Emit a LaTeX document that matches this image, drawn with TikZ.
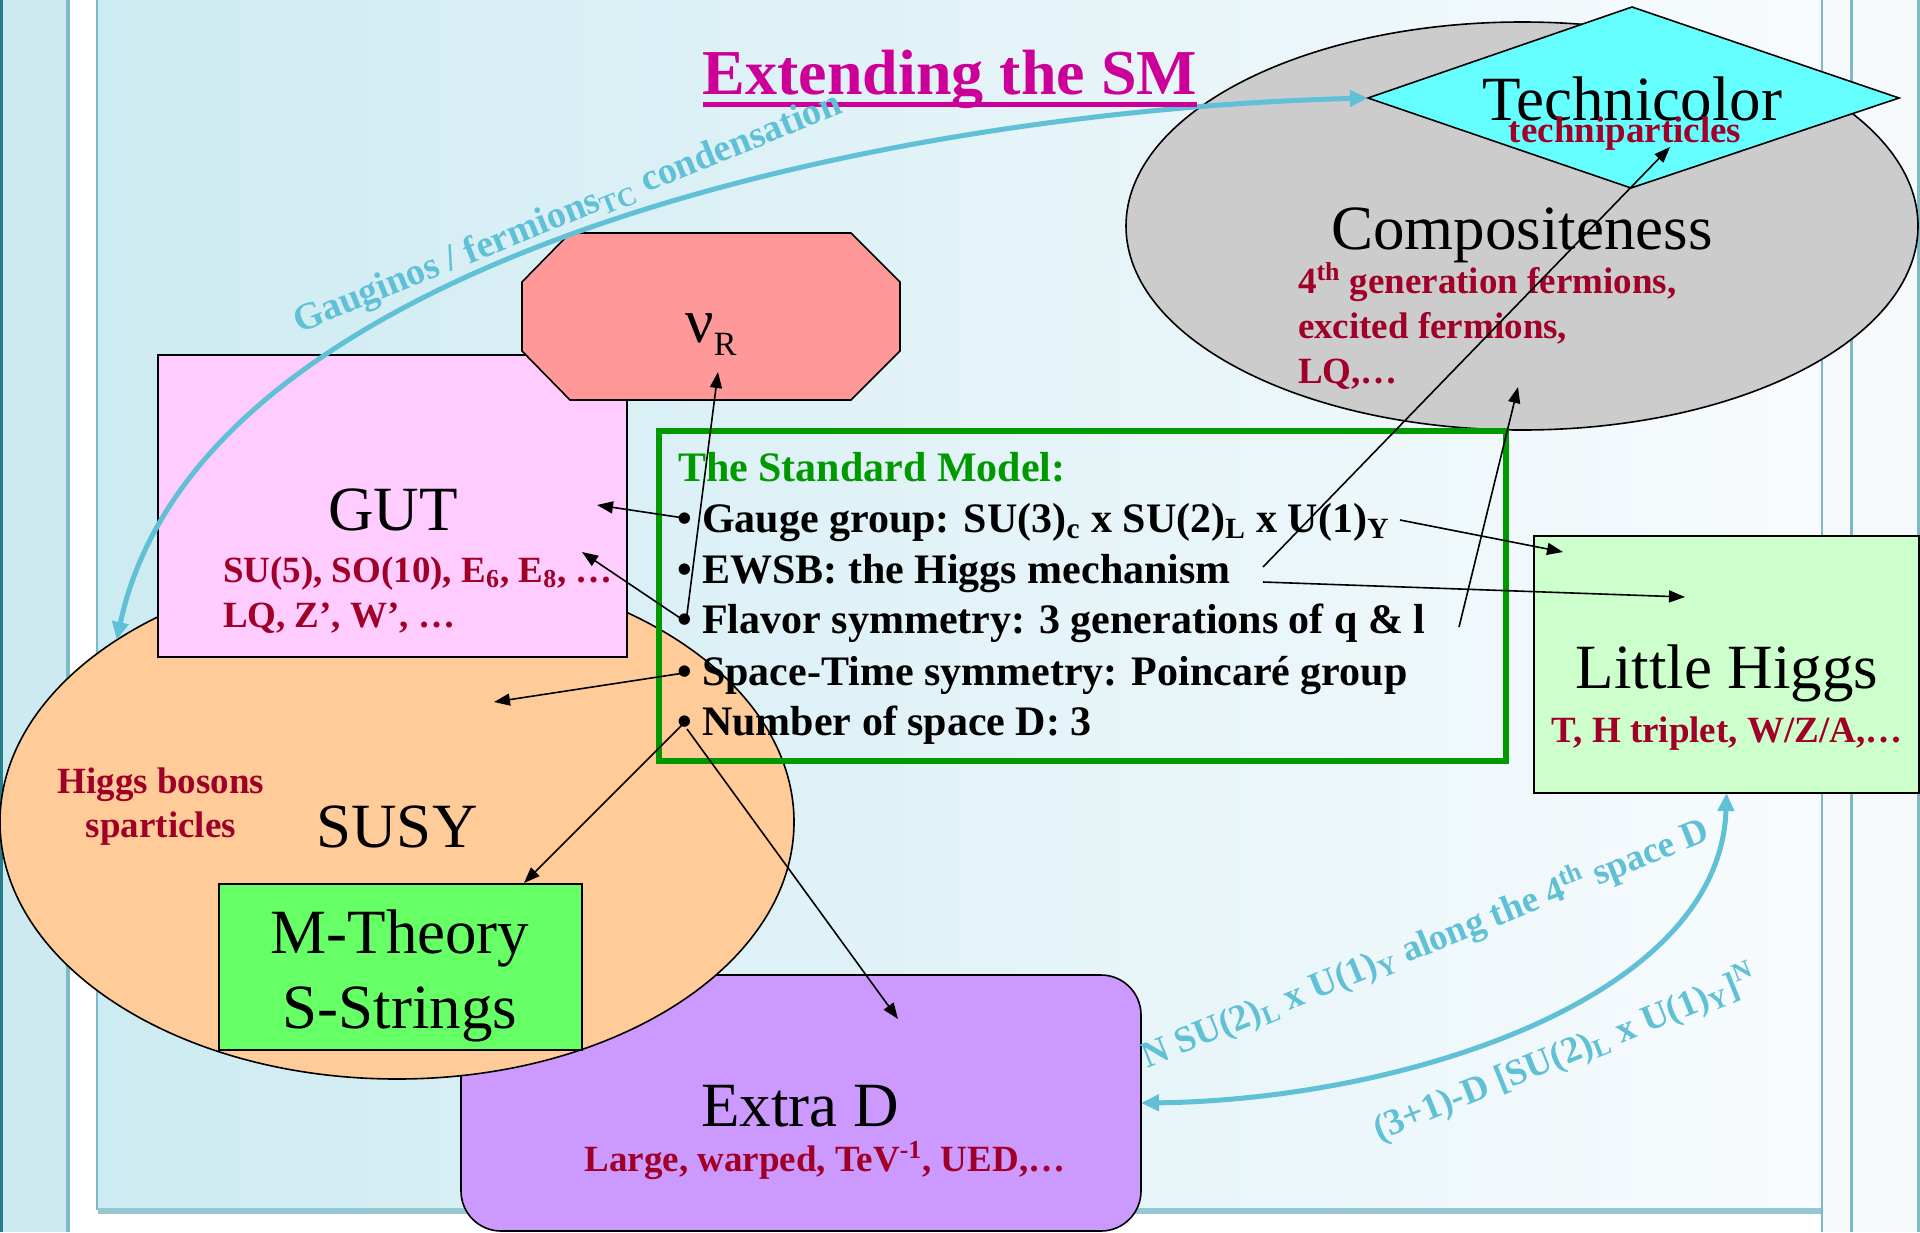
\documentclass[tikz,border=0pt]{standalone}
\usepackage{fontspec}
\setmainfont{Liberation Serif}
\usetikzlibrary{shapes.geometric,arrows.meta}

\definecolor{band}{RGB}{206,234,241}
\definecolor{edge}{RGB}{125,186,198}
\definecolor{edgedark}{RGB}{40,125,140}
\definecolor{panelL}{RGB}{205,235,242}
\definecolor{panelR}{RGB}{248,251,253}
\definecolor{rightbg}{RGB}{245,249,251}
\definecolor{dkred}{RGB}{160,0,40}
\definecolor{titlemag}{RGB}{204,0,153}
\definecolor{smgreen}{RGB}{0,153,0}
\definecolor{link}{RGB}{95,192,214}
\definecolor{susyfill}{RGB}{255,204,153}
\definecolor{gutfill}{RGB}{255,204,255}
\definecolor{nufill}{RGB}{255,153,153}
\definecolor{mfill}{RGB}{102,255,102}
\definecolor{xdfill}{RGB}{204,153,255}
\definecolor{compfill}{RGB}{204,204,204}
\definecolor{tcfill}{RGB}{102,255,255}
\definecolor{lhfill}{RGB}{204,255,204}

\begin{document}
\begin{tikzpicture}[x=0.5pt,y=-0.5pt,
  outlined/.style={draw=black, line width=0.8pt, inner sep=0pt, outer sep=0pt},
  txt/.style={inner sep=0pt, outer sep=0pt, anchor=base},
  mainlabel/.style={txt, font=\fontsize{31.5}{36}\selectfont},
  sublabel/.style={txt, text=dkred, font=\bfseries\fontsize{18.5}{22}\selectfont},
  smline/.style={txt, anchor=base west, font=\bfseries\fontsize{21}{25}\selectfont},
  linklabel/.style={txt, anchor=base west, text=link, rotate=22,
    font=\bfseries\fontsize{18.5}{22}\selectfont},
  pointer/.style={draw=black, line width=0.8pt, -{Triangle[length=8pt,width=6pt]}},
  linkarrow/.style={draw=link, line width=2.5pt,
    {Triangle[length=9pt,width=8pt]}-{Triangle[length=9pt,width=8pt]}},
]
\useasboundingbox (0,0) rectangle (1920,1232);

% ---- slide background ----
\fill[white] (0,0) rectangle (1920,1232);
\fill[band] (0,0) rectangle (66,1232);
\shade[left color=panelL, right color=panelR] (98,0) rectangle (1821,1210);
\fill[edge!80] (98,1208) rectangle (1823,1214);
\fill[rightbg] (1823,0) rectangle (1920,1232);
\draw[edgedark, line width=1.5pt] (1,0) -- (1,1232);
\draw[edge, line width=2pt] (68,0) -- (68,1232);
\draw[edge, line width=1pt] (97,0) -- (97,1210);
\draw[edge, line width=1pt] (1822,0) -- (1822,1232);
\draw[edge, line width=1.5pt] (1851,0) -- (1851,1232);
\draw[edge, line width=1.5pt] (1918,0) -- (1918,1232);

% ---- shapes ----
\node[outlined, fill=xdfill, rounded corners=20pt,
      minimum width=340pt, minimum height=128pt] (xd) at (801,1103) {};
\node[outlined, ellipse, fill=susyfill,
      minimum width=397pt, minimum height=257pt] (susy) at (397,822) {};
\node[outlined, rectangle, fill=gutfill,
      minimum width=234.5pt, minimum height=151pt] (gut) at (392.5,506) {};
\node[outlined, rectangle, fill=mfill,
      minimum width=181.5pt, minimum height=83pt] (mt) at (400.5,967) {};
\draw[outlined, fill=nufill] (570,233) -- (851,233) -- (900,282) -- (900,351)
  -- (851,400) -- (570,400) -- (522,351) -- (522,282) -- cycle;
\node[outlined, ellipse, fill=compfill,
      minimum width=396pt, minimum height=204pt] (comp) at (1522,226) {};
\draw[outlined, fill=tcfill] (1632,7) -- (1899,98) -- (1631,188) -- (1368,98) -- cycle;
\coordinate (tcW) at (1368,98);
\node[outlined, rectangle, fill=lhfill,
      minimum width=192.5pt, minimum height=128.5pt] (lh) at (1726.5,664.5) {};
\node[draw=smgreen, line width=3pt, rectangle, inner sep=0pt,
      minimum width=423.5pt, minimum height=165pt] (sm) at (1082.5,596) {};

% ---- cyan links ----
\draw[linkarrow] (tcW) .. controls (900,110) and (200,250) .. (susy.147);
\draw[linkarrow] (lh.south) .. controls (1720,1000) and (1400,1100) .. (xd.east);

% ---- title ----
\node[txt, text=titlemag, font=\bfseries\fontsize{32}{36}\selectfont] (title) at (950,94) {Extending the SM};
\draw[titlemag, line width=2.5pt] ([yshift=-5pt]title.base west) -- ([yshift=-5pt]title.base east);

% ---- labels ----
\node[mainlabel] (tcl) at (1632,120) {Technicolor};
\node[sublabel] (tcs) at (1625,142) {techniparticles};

\node[mainlabel] (compl) at (1522,249) {Compositeness};
\node[sublabel, anchor=base west] (comps1) at (1298,293) {4\textsuperscript{th} generation fermions,};
\node[sublabel, anchor=base west] (comps2) at (1298,338) {excited fermions,};
\node[sublabel, anchor=base west] (comps3) at (1298,383) {LQ,…};

\node[mainlabel] (gutl) at (393,530) {GUT};
\node[sublabel, anchor=base west] (guts1) at (223,582) {SU(5), SO(10), E\textsubscript{6}, E\textsubscript{8}, …};
\node[sublabel, anchor=base west] (guts2) at (223,627) {LQ, Z’, W’, …};

\node[mainlabel] (nul) at (711,342) {ν\raisebox{-0.22em}{\fontsize{17}{17}\selectfont R}};

\node[mainlabel] (susyl) at (397,847) {SUSY};
\node[sublabel] (susys1) at (161,793) {Higgs bosons};
\node[sublabel] (susys2) at (161,837) {sparticles};

\node[mainlabel] (mtl1) at (400,953) {M-Theory};
\node[mainlabel] (mtl2) at (400,1028) {S-Strings};

\node[mainlabel] (xdl) at (800,1126) {Extra D};
\node[sublabel] (xds) at (825,1171) {Large, warped, TeV\textsuperscript{-1}, UED,…};

\node[mainlabel] (lhl) at (1727,688) {Little Higgs};
\node[sublabel] (lhs) at (1727,742) {T, H triplet, W/Z/A,…};

% ---- Standard Model panel text ----
\node[smline, text=smgreen] (smt) at (678,481) {The Standard Model:};
\node[smline] (sm1) at (677,532) {•\ Gauge group: SU(3)\textsubscript{c} x SU(2)\textsubscript{L} x U(1)\textsubscript{Y}};
\node[smline] (sm2) at (677,583) {•\ EWSB: the Higgs mechanism};
\node[smline] (sm3) at (677,633) {•\ Flavor symmetry: 3 generations of q \& l};
\node[smline] (sm4) at (677,685) {•\ Space-Time symmetry: Poincaré group};
\node[smline] (sm5) at (677,735) {•\ Number of space D: 3};

% ---- link labels ----
\node[linklabel, font=\bfseries\fontsize{19}{22}\selectfont] (lk1) at (299,333) {Gauginos / fermions\textsubscript{TC} condensation};
\node[linklabel] (lk2) at (1147,1068) {N SU(2)\textsubscript{L} x U(1)\textsubscript{Y} along the 4\textsuperscript{th} space D};
\node[linklabel] (lk3) at (1379,1141) {(3+1)-D [SU(2)\textsubscript{L} x U(1)\textsubscript{Y}]\textsuperscript{N}};

% ---- connector end points ----
\coordinate (pGauge) at (684,518);
\coordinate (pFlavor) at (686,622);
\coordinate (pSpace) at (684,673);
\coordinate (pNumber) at (684,723);
\coordinate (pNumberB) at (687,729);
\coordinate (eGauge) at (1400,520);
\coordinate (eEWSBa) at (1263,567);
\coordinate (eEWSBb) at (1263,582);
\coordinate (eFlavor) at (1459,627);
\coordinate (tGutA) at (597,505);
\coordinate (tGutB) at (582,552);
\coordinate (tNu) at (718,372);
\coordinate (tSusy) at (494,702);
\coordinate (tM) at (524,883);
\coordinate (tXd) at (898,1019);
\coordinate (tLhA) at (1563,552);
\coordinate (tLhB) at (1685,597);
\coordinate (tTc) at (1670,147);
\coordinate (tComp) at (1518,387);

% ---- connectors ----
\draw[pointer] (pGauge) -- (tGutA);
\draw[pointer] (pFlavor) -- (tGutB);
\draw[pointer] (pFlavor) -- (tNu);
\draw[pointer] (pSpace) -- (tSusy);
\draw[pointer] (pNumber) -- (tM);
\draw[pointer] (pNumberB) -- (tXd);
\draw[pointer] (eGauge) -- (tLhA);
\draw[pointer] (eEWSBb) -- (tLhB);
\draw[pointer] (eEWSBa) -- (tTc);
\draw[pointer] (eFlavor) -- (tComp);
\end{tikzpicture}
\end{document}
